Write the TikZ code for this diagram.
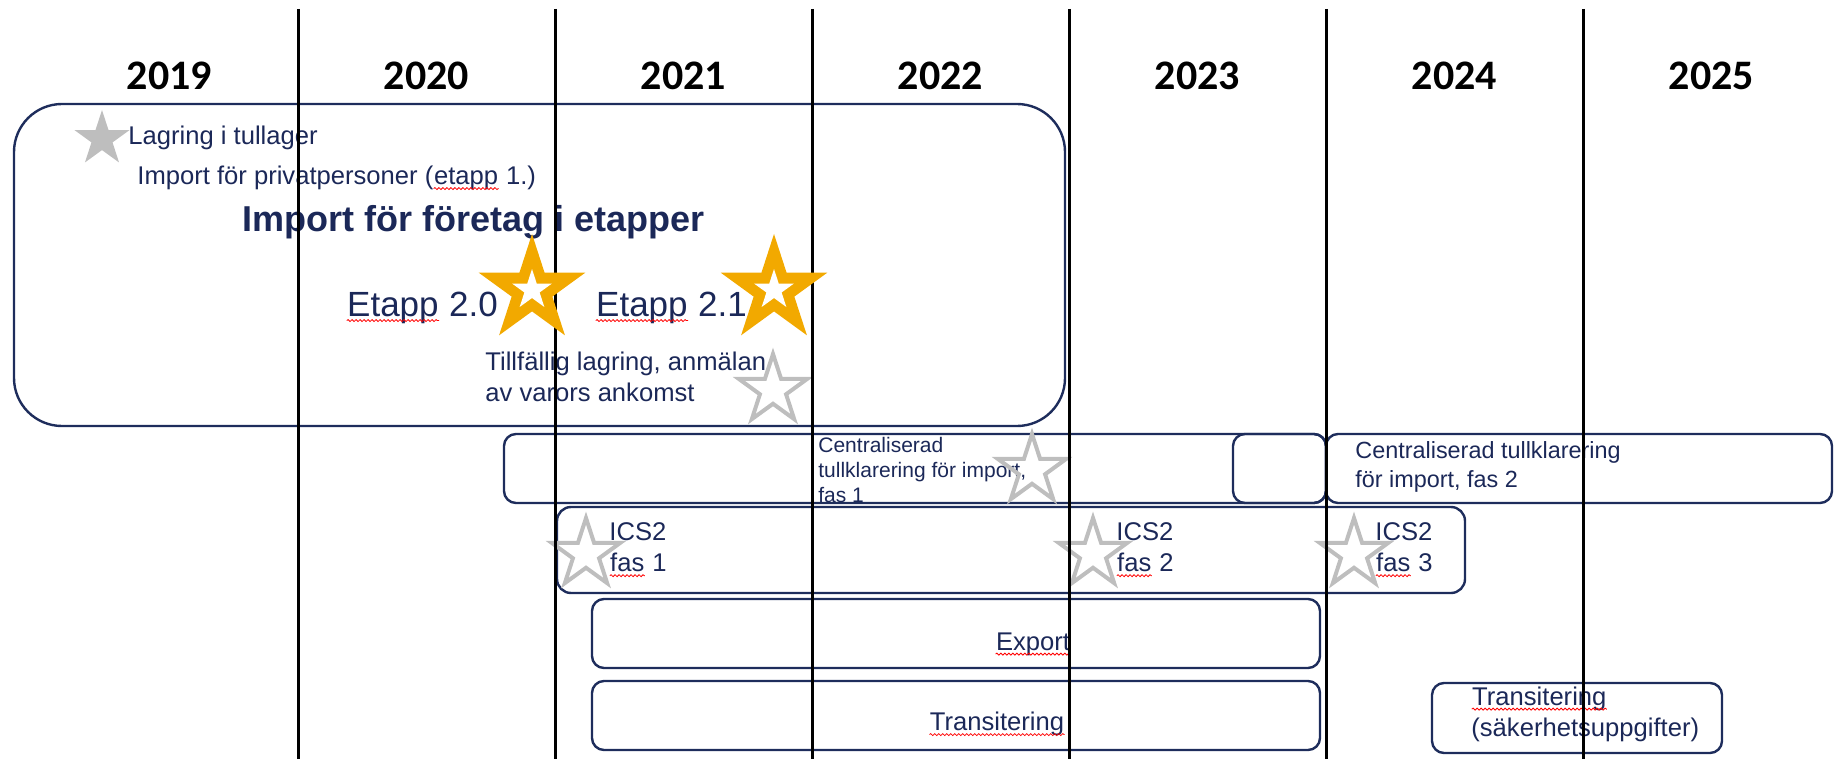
\documentclass[tikz,border=0pt]{standalone}
\usepackage{fontspec}
\setmainfont{Liberation Sans}
\newfontfamily\yearfont{Carlito}
\usetikzlibrary{shapes.geometric,decorations.pathmorphing}

\definecolor{textnavy}{RGB}{27,40,88}
\definecolor{boxnavy}{RGB}{30,45,92}
\definecolor{stargold}{RGB}{242,169,0}
\definecolor{stargray}{RGB}{190,190,190}

% red wavy mark under words
\newcommand\typo[1]{\tikz[baseline=(w.base)]{\node[inner sep=0pt, anchor=base] (w) {#1};
  \draw[red, line width=0.4pt, decorate, decoration={snake, amplitude=0.5pt, segment length=2pt}]
    ([yshift=-2pt]w.base west) -- ([yshift=-2pt]w.base east);}}

\tikzset{
  yearlbl/.style={font=\yearfont\bfseries\fontsize{21}{25}\selectfont},
  lbl/.style={text=textnavy, inner sep=0pt, align=left, anchor=west,
    font=\fontsize{12.8}{15.5}\selectfont},
  box/.style={draw=boxnavy, line width=1.2pt, rounded corners=6pt},
  yearline/.style={draw=black, line width=1.5pt},
  starbase/.style={star, star points=5, star point ratio=2.618, inner sep=0pt},
  goldstar/.style={starbase, fill=stargold, minimum size=56pt},
  goldcore/.style={starbase, fill=white, minimum size=21pt},
  graystar/.style={starbase, fill=stargray, minimum size=29pt},
  openstar/.style={starbase, draw=stargray, line width=2pt, minimum size=36pt}
}

\begin{document}
\begin{tikzpicture}[x=0.5pt, y=-0.5pt]
  \useasboundingbox (0,0) rectangle (1835,759);

  % Years
  \foreach \yr [count=\i from 0] in {2019,2020,2021,2022,2023,2024,2025}
    \node[yearlbl] (y\yr) at ({169.5+257*\i},76) {\yr};

  % Import box
  \draw[box, rounded corners=24pt] (14,104) rectangle (1065,426);
  \node[graystar] (s0) at (102,139) {};
  \node[lbl] (lagring) at (128,138) {Lagring i tullager};
  \node[lbl] (privat) at (137,178) {Import för privatpersoner (\typo{etapp} 1.)};
  \node[lbl, font=\bfseries\fontsize{18}{21}\selectfont] (foretag) at (242,222)
    {Import för företag i etapper};
  \node[lbl, font=\fontsize{17.5}{20}\selectfont] (e20) at (346,308) {\typo{Etapp} 2.0};
  \node[lbl, font=\fontsize{17.5}{20}\selectfont] (e21) at (595,308) {\typo{Etapp} 2.1};
  \node[lbl] (tillf) at (485,377) {Tillfällig lagring, anmälan\\av varors ankomst};
  \node[openstar] (s1) at (773,390) {};

  % Centraliserad tullklarering
  \draw[box] (504,434) rectangle (1326,503);
  \draw[box] (1233,434) rectangle (1326,503);
  \draw[box] (1326,434) rectangle (1832,503);
  \node[lbl, font=\fontsize{10.5}{12.5}\selectfont] (cent1) at (818,470)
    {Centraliserad\\tullklarering för import,\\fas 1};
  \node[openstar] (s2) at (1032,470) {};
  \node[lbl, font=\fontsize{11.7}{14.5}\selectfont] (cent2) at (1355,467)
    {Centraliserad tullklarering\\för import, fas 2};

  % ICS2
  \draw[box, rounded corners=7pt] (557,507) rectangle (1465,593);
  \node[openstar] (s3) at (586,554) {};
  \node[openstar] (s4) at (1093,554) {};
  \node[openstar] (s5) at (1354,554) {};
  \node[lbl] (ics1) at (609,550) {ICS2\\\typo{fas} 1};
  \node[lbl] (ics2) at (1116,550) {ICS2\\\typo{fas} 2};
  \node[lbl] (ics3) at (1375,550) {ICS2\\\typo{fas} 3};

  % Export and transit
  \draw[box] (592,599) rectangle (1320,668);
  \node[lbl, anchor=center] (export) at (1033,644) {\typo{Export}};
  \draw[box] (592,681) rectangle (1320,750);
  \node[lbl, anchor=center] (trans) at (997,724) {\typo{Transitering}};
  \draw[box] (1432,683) rectangle (1722,753);
  \node[lbl] (transsak) at (1471,714) {\typo{Transitering}\\(säkerhetsuppgifter)};

  % Year dividers
  \foreach \xl in {298,555,812,1069,1326,1583}
    \draw[yearline] (\xl,9) -- (\xl,759);

  % Milestones
  \node[goldstar] (g20) at (532,290) {};
  \node[goldcore] at (g20) {};
  \node[goldstar] (g21) at (774,290) {};
  \node[goldcore] at (g21) {};
\end{tikzpicture}
\end{document}
